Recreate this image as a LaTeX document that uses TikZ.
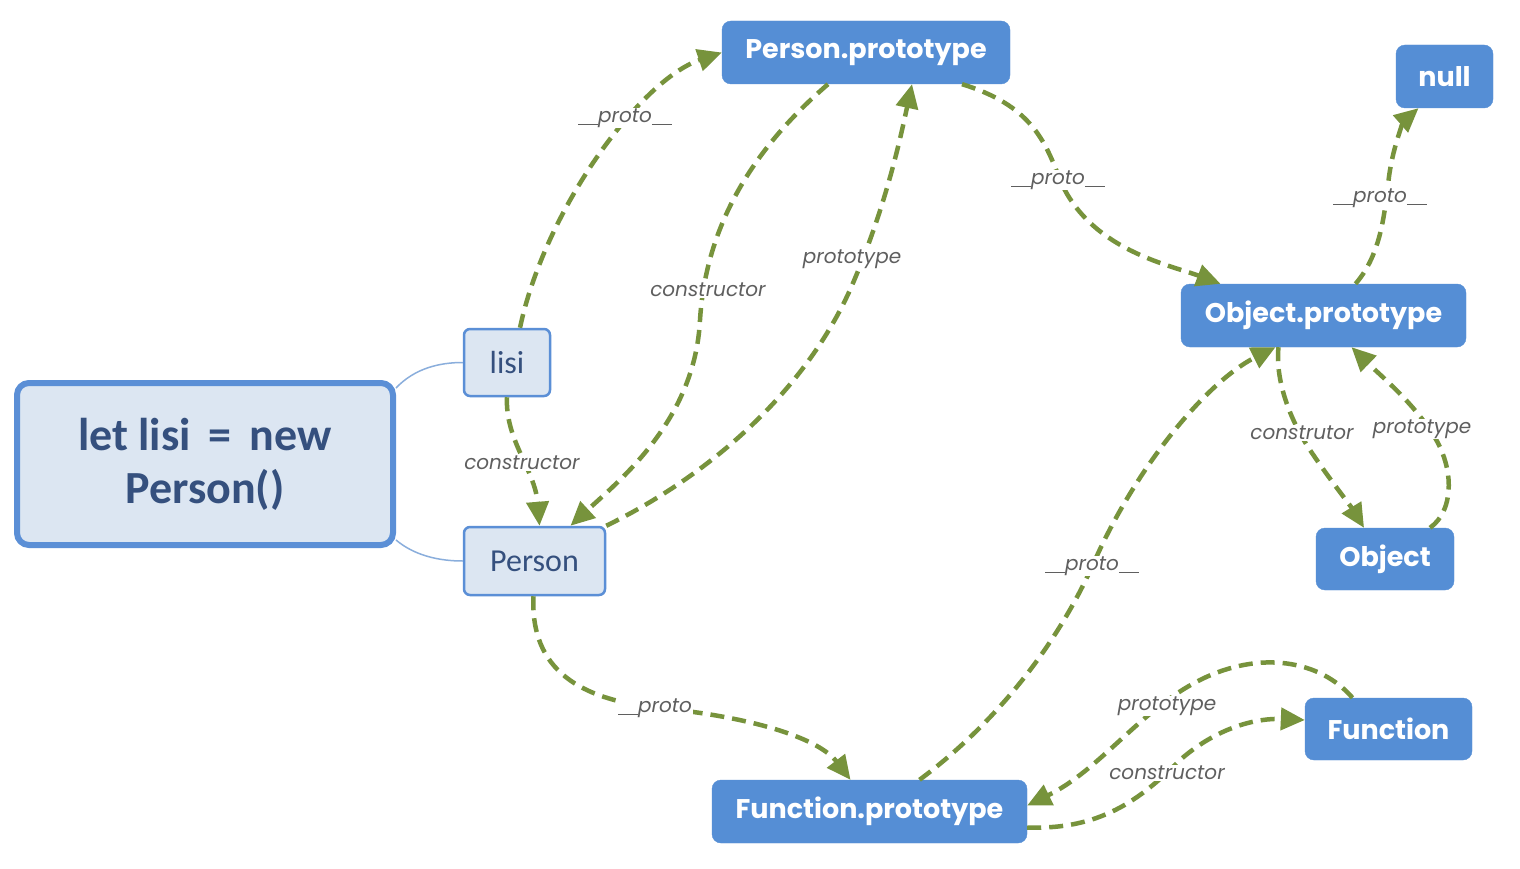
\documentclass[tikz,border=0pt]{standalone}
\usepackage{fontspec}
\setmainfont{Carlito}
\newfontfamily\boxfont{Poppins}
\newfontfamily\labfont{Poppins}
\usetikzlibrary{arrows.meta}
\newcommand\usc{\rule[-2.5pt]{10pt}{1.2pt}}
\definecolor{bluefill}{HTML}{558ED5}
\definecolor{lightfill}{HTML}{DCE6F2}
\definecolor{lightborder}{HTML}{5B8FD6}
\definecolor{darktext}{HTML}{35507E}
\definecolor{edgegreen}{HTML}{77933C}
\definecolor{labgray}{HTML}{5F5F5F}
\definecolor{linkblue}{HTML}{8AAEDC}
\tikzset{
  bluebox/.style={draw=bluefill, fill=bluefill, rounded corners=9pt, inner sep=0pt,
    text=white, font=\boxfont\bfseries\fontsize{27}{30}\selectfont},
  lightbox/.style={draw=lightborder, fill=lightfill, line width=2.5pt, rounded corners=6pt,
    inner sep=0pt, text=darktext, font=\fontsize{32}{36}\selectfont},
  edge/.style={draw=edgegreen, line width=4.5pt, dash pattern=on 14pt off 8pt,
    -{Triangle[length=24pt,width=22pt]}},
  lab/.style={fill=white, inner sep=1pt, text=labgray,
    font=\labfont\itshape\fontsize{20}{22}\selectfont},
  link/.style={draw=linkblue, line width=1.5pt}
}
\begin{document}
\begin{tikzpicture}[x=1pt,y=-1pt]
\useasboundingbox[fill=white] (0,0) rectangle (1520,869);

% nodes
\node[draw=lightborder, fill=lightfill, line width=6pt, rounded corners=12pt, inner sep=0pt,
  minimum width=376pt, minimum height=162pt, text=darktext, align=center,
  font=\bfseries\fontsize{46}{53}\selectfont] (big) at (205,464) {let lisi \,=\, new\\Person()};
\node[lightbox, minimum width=86pt, minimum height=67pt] (lisi) at (507,362.5) {lisi};
\node[lightbox, minimum width=141pt, minimum height=68pt] (person) at (534.5,561) {Person};
\node[bluebox, minimum width=288pt, minimum height=63pt] (pp) at (866,52.5) {Person.prototype};
\node[bluebox, minimum width=97pt, minimum height=63pt] (null) at (1444.5,76.5) {null};
\node[bluebox, minimum width=285pt, minimum height=63pt] (op) at (1323.5,315.5) {Object.prototype};
\node[bluebox, minimum width=138pt, minimum height=62pt] (obj) at (1385,559) {Object};
\node[bluebox, minimum width=167pt, minimum height=62pt] (fn) at (1388.5,729) {Function};
\node[bluebox, minimum width=315pt, minimum height=63pt] (fp) at (869.5,811.5) {Function.prototype};

% thin links
\draw[link] ([yshift=-8pt]big.north east) .. controls (415,368) and (440,362.5) .. (lisi.west);
\draw[link] ([yshift=8pt]big.south east) .. controls (415,556) and (440,561) .. (person.west);

% edges
\draw[edge] ([xshift=13pt]lisi.north) .. controls (545,210) and (640,80) .. (pp.west);
\draw[edge] ([xshift=-38pt]pp.south) .. controls (740,160) and (705,240) .. (700,320)
  .. controls (695,420) and (620,480) .. ([xshift=36pt]person.north);
\draw[edge] (person.north east) .. controls (700,480) and (800,400) .. (850,290)
  .. controls (885,210) and (900,140) .. ([xshift=46pt]pp.south);
\draw[edge] (lisi.south) .. controls (505,440) and (535,470) .. ([xshift=5pt]person.north);
\draw[edge] ([xshift=96pt]pp.south) .. controls (1030,105) and (1045,140) .. (1060,180)
  .. controls (1090,250) and (1170,265) .. ([xshift=-103pt]op.north);
\draw[edge] ([xshift=32pt]op.north) .. controls (1385,250) and (1385,200) .. (1390,170)
  .. controls (1395,140) and (1405,120) .. ([xshift=-26pt]null.south);
\draw[edge] ([xshift=-45pt]op.south) .. controls (1275,380) and (1290,420) .. (1310,450)
  .. controls (1330,480) and (1350,505) .. ([xshift=-21pt]obj.north);
\draw[edge] ([xshift=45pt]obj.north) .. controls (1455,510) and (1455,465) .. (1430,430)
  .. controls (1410,400) and (1380,375) .. ([xshift=28pt]op.south);
\draw[edge] ([xshift=-1pt]person.south) .. controls (530,670) and (580,700) .. (660,708)
  .. controls (760,718) and (820,740) .. ([xshift=-19pt]fp.north);
\draw[edge] ([xshift=50pt]fp.north) .. controls (1000,720) and (1060,640) .. (1095,560)
  .. controls (1140,460) and (1210,380) .. ([xshift=-48pt]op.south);
\draw[edge] ([xshift=-36pt]fn.north) .. controls (1320,660) and (1260,650) .. (1200,680)
  .. controls (1140,710) and (1100,770) .. ([yshift=6pt]fp.east);
\draw[edge] ([yshift=-16pt]fp.east) .. controls (1100,830) and (1140,800) .. (1180,760)
  .. controls (1220,725) and (1260,718) .. ([yshift=9pt]fn.west);

% labels
\node[lab] (l1) at (625,118) {\usc\usc proto\usc\usc};
\node[lab] (l2) at (708,290) {constructor};
\node[lab] (l3) at (852,259) {prototype};
\node[lab] (l4) at (522,463) {constructor};
\node[lab] (l5) at (1058,180) {\usc\usc proto\usc\usc};
\node[lab] (l6) at (1380,198) {\usc\usc proto\usc\usc};
\node[lab] (l7) at (1302,433) {construtor};
\node[lab] (l8) at (1422,429) {prototype};
\node[lab] (l9) at (655,708) {\usc\usc proto};
\node[lab] (l10) at (1092,566) {\usc\usc proto\usc\usc};
\node[lab] (l11) at (1167,706) {prototype};
\node[lab] (l12) at (1167,773) {constructor};
\end{tikzpicture}
\end{document}
